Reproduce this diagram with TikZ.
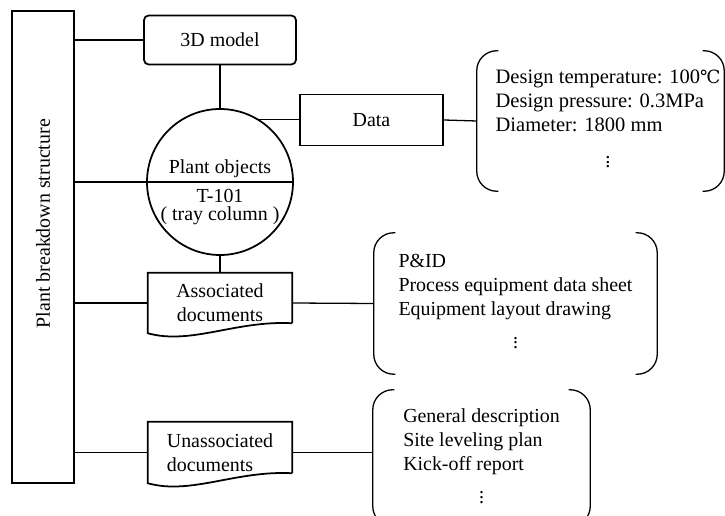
\documentclass[tikz,border=0pt]{standalone}
\usepackage{fontspec}
\setmainfont{Liberation Serif}
\newfontfamily\degfont{DejaVu Serif}
\usetikzlibrary{positioning}

\tikzset{
  box/.style={draw, line width=1.5pt},
  link/.style={line width=1.1pt},
  brace/.style={line width=1.1pt, rounded corners=0.6cm},
}

% document symbol with a wavy bottom edge
\newcommand{\docframe}[1]{%
  \draw[box] ([yshift=0.3cm]#1.south east) -- (#1.north east) -- (#1.north west) -- (#1.south west)
    .. controls ([xshift=1.3cm,yshift=-0.36cm]#1.south west) and ([xshift=-1.7cm,yshift=0.39cm]#1.south east) .. ([yshift=0.3cm]#1.south east);}

% round brackets on both sides of a list
\newcommand{\listframe}[1]{%
  \draw[brace] ([xshift=0.65cm]#1.north west) -- (#1.north west) -- (#1.south west) -- ([xshift=0.65cm]#1.south west);
  \draw[brace] ([xshift=-0.65cm]#1.north east) -- (#1.north east) -- (#1.south east) -- ([xshift=-0.65cm]#1.south east);}

\newcommand{\moredots}{\multicolumn{1}{@{}c@{}}{$\vdots$}}

\begin{document}
\begin{tikzpicture}[x=0.03cm, y=-0.03cm, font=\fontsize{17}{20.5}\selectfont]
\useasboundingbox (0,0) rectangle (725,516);

% left column
\node[box, minimum width=1.86cm, minimum height=14.16cm] (pbs) at (43,247) {\rotatebox{90}{\hspace{1.4cm}Plant breakdown structure}};

% plant object
\node[box, rounded corners=4pt, minimum width=4.56cm, minimum height=1.47cm] (model) at (220,40) {3D model};
\node[box, circle, minimum size=4.38cm] (obj) at (220,182) {};
\node[above=0.12cm, inner sep=0pt] (objname) at (obj.center) {Plant objects};
\node[below=0.22cm, inner sep=0pt, align=center, font=\fontsize{17}{15}\selectfont] (objtag) at (obj.center) {T-101\\( tray column )};

\node[box, minimum width=4.29cm, minimum height=1.53cm] (data) at (371.5,120) {Data};
\node[inner sep=0pt, minimum width=7.41cm, minimum height=4.2cm, font=\fontsize{17.5}{20.5}\selectfont] (datalist) at (600.5,121) {\hspace{0.45cm}\begin{tabular}{@{}l@{}}
  Design temperature: 100{\degfont\fontsize{15.5}{15.5}\selectfont ℃}\\
  Design pressure: 0.3MPa\\
  Diameter: 1800 mm\\[9pt]
  \moredots
\end{tabular}};
\listframe{datalist}

% documents
\node[inner sep=0pt, align=center, minimum width=4.32cm, minimum height=1.8cm] (assoc) at (220,303) {Associated\\documents};
\docframe{assoc}
\node[inner sep=0pt, minimum width=8.49cm, minimum height=4.23cm] (assoclist) at (515.5,303.5) {\begin{tabular}{@{}l@{}}
  P\&ID\\
  Process equipment data sheet\\
  Equipment layout drawing\\[6pt]
  \moredots
\end{tabular}};
\listframe{assoclist}

\node[inner sep=0pt, align=left, minimum width=4.32cm, minimum height=1.83cm] (unassoc) at (220,452.5) {Unassociated\\documents};
\docframe{unassoc}
\node[inner sep=0pt, minimum width=6.51cm, minimum height=4.08cm] (unassoclist) at (481.5,458) {\begin{tabular}{@{}l@{}}
  General description\\
  Site leveling plan\\
  Kick-off report\\[6pt]
  \moredots
\end{tabular}};
\listframe{unassoclist}

% connectors
\draw[link] (pbs.east |- model.west) -- (model.west);
\draw[link] (model.south) -- (obj.north);
\draw[link] (pbs.east |- obj.center) -- (obj.east);
\draw[link] (obj.58) -- (obj.58 -| data.west);
\draw[link] (data.east) -- (datalist.west);
\draw[link] (obj.south) -- (assoc.north);
\draw[link] (pbs.east |- assoc.west) -- (assoc.west);
\draw[link] (assoc.east) -- (assoclist.west);
\draw[link] (pbs.east |- unassoc.west) -- (unassoc.west);
\draw[link] (unassoc.east) -- (unassoc.east -| unassoclist.west);
\end{tikzpicture}
\end{document}
